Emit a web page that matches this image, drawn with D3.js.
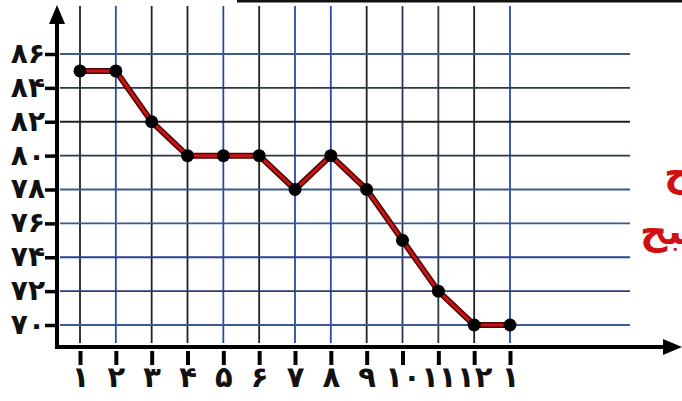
<!DOCTYPE html>
<html><head><meta charset="utf-8">
<script src="https://cdn.jsdelivr.net/npm/d3@7/dist/d3.min.js"></script>
<style>body{margin:0;background:#fff}svg{display:block}</style>
</head><body>
<svg id="c" width="682" height="401"></svg>
<script>
const categories = ["۱","۲","۳","۴","۵","۶","۷","۸","۹","۱۰","۱۱","۱۲","۱"];
const values = [85, 85, 82, 80, 80, 80, 78, 80, 78, 75, 72, 70, 70];
const yTicks = [70, 72, 74, 76, 78, 80, 82, 84, 86];
const yTickLabels = ["۷۰","۷۲","۷۴","۷۶","۷۸","۸۰","۸۲","۸۴","۸۶"];
const sideLabels = ["صبح", "صبح"];

const vColors = ["#222","#2b4aa8","#222","#222","#2b4aa8","#222","#2b4aa8","#2b4aa8","#222","#2a3550","#2a3550","#222","#2b4aa8"];
const hColors = ["#3a5a90","#2a3f70","#2b4090","#3a5a90","#3a5a90","#2a3550","#222","#2a3550","#3a5a90"];

const svg = d3.select("#c");
const x = d3.scalePoint().domain(d3.range(categories.length)).range([80, 510]);
const y = d3.scaleLinear().domain([70, 86]).range([325, 54]);
const fontDigits = "'DejaVu Sans', 'Noto Sans', sans-serif";

// top border line
svg.append("line").attr("x1", 237).attr("x2", 682).attr("y1", 1).attr("y2", 1)
  .attr("stroke", "#111").attr("stroke-width", 3);

// vertical gridlines
svg.append("g").selectAll("line").data(d3.range(categories.length)).join("line")
  .attr("x1", d => x(d)).attr("x2", d => x(d))
  .attr("y1", 6).attr("y2", 343)
  .attr("stroke", (d, i) => vColors[i]).attr("stroke-width", 1.8);

// horizontal gridlines
svg.append("g").selectAll("line").data(yTicks).join("line")
  .attr("x1", 60).attr("x2", 630)
  .attr("y1", d => y(d)).attr("y2", d => y(d))
  .attr("stroke", (d, i) => hColors[i]).attr("stroke-width", 1.8);

// axes
svg.append("line").attr("x1", 57).attr("x2", 57).attr("y1", 348).attr("y2", 22)
  .attr("stroke", "#000").attr("stroke-width", 4);
svg.append("path").attr("d", "M57,5 L49,24 L65,24 Z").attr("fill", "#000");
svg.append("line").attr("x1", 55).attr("x2", 665).attr("y1", 347).attr("y2", 347)
  .attr("stroke", "#000").attr("stroke-width", 4);
svg.append("path").attr("d", "M682,347 L663,339 L663,355 Z").attr("fill", "#000");

// y ticks
const yAxis = d3.axisLeft(y).tickValues(yTicks).tickSize(12)
  .tickFormat((d, i) => yTickLabels[i]);
const gy = svg.append("g").attr("transform", "translate(57,0)").call(yAxis);
gy.select(".domain").remove();
gy.selectAll(".tick line").attr("stroke", "#000").attr("stroke-width", 3.5);
gy.selectAll(".tick text").attr("font-family", fontDigits).attr("font-size", 28)
  .attr("font-weight", "bold").attr("fill", "#111").attr("x", -12).attr("dy", "0.3em");

// x ticks
const xAxis = d3.axisBottom(x).tickSize(14).tickPadding(14)
  .tickFormat(i => categories[i]);
const gx = svg.append("g").attr("transform", "translate(0,351)").call(xAxis);
gx.select(".domain").remove();
gx.selectAll(".tick line").attr("stroke", "#000").attr("stroke-width", 4);
gx.selectAll(".tick text").attr("font-family", fontDigits).attr("font-size", 29)
  .attr("font-weight", "bold").attr("fill", "#111").attr("dy", null).attr("y", 36);

// line
const line = d3.line().x((d, i) => x(i)).y(d => y(d));
svg.append("path").datum(values).attr("d", line).attr("fill", "none")
  .attr("stroke", "#4a0505").attr("stroke-width", 6).attr("stroke-linejoin", "round");
svg.append("path").datum(values).attr("d", line).attr("fill", "none")
  .attr("stroke", "#c81414").attr("stroke-width", 3).attr("stroke-linejoin", "round");

// points
svg.append("g").selectAll("circle").data(values).join("circle")
  .attr("cx", (d, i) => x(i)).attr("cy", d => y(d)).attr("r", 6.5).attr("fill", "#000");

// red side labels, cut at the right edge as in the reference
svg.append("text").attr("x", 664).attr("y", 186).text(sideLabels[0])
  .attr("font-family", "'DejaVu Sans', sans-serif").attr("font-weight", "bold")
  .attr("font-size", 38).attr("fill", "#d01010");
svg.append("text").attr("x", 640).attr("y", 244).text(sideLabels[1])
  .attr("font-family", "'DejaVu Sans', sans-serif").attr("font-weight", "bold")
  .attr("font-size", 38).attr("fill", "#d01010");
</script>
</body></html>
